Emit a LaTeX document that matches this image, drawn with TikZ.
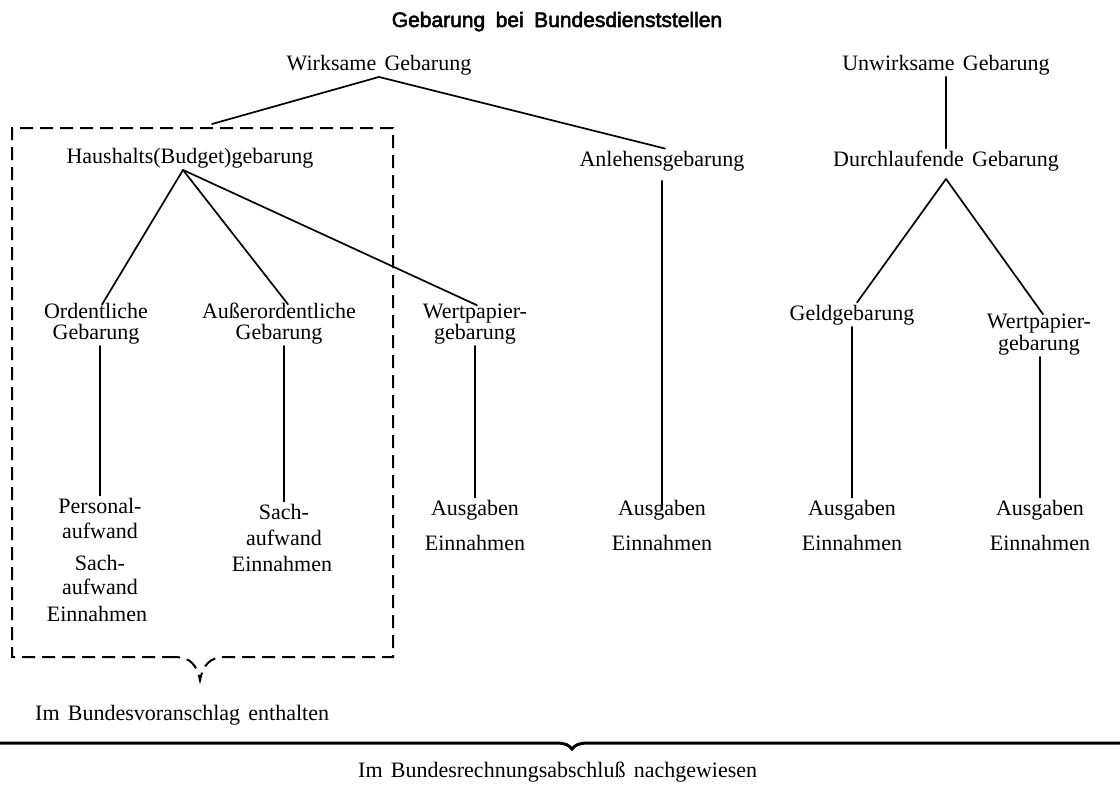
\documentclass[tikz,border=0pt]{standalone}
\usepackage{fontspec}
\setmainfont{Liberation Serif}[WordSpace=1.5]
\newfontfamily\titlefont{Liberation Sans}[WordSpace=1.8,FakeBold=2.5]
\begin{document}
\begin{tikzpicture}[x=1pt,y=-1pt,
  lbl/.style={font=\fontsize{22}{24}\selectfont, inner sep=2pt, anchor=base},
  lbll/.style={lbl, anchor=base west},
  ttl/.style={font=\titlefont\fontsize{21}{24}\selectfont, inner sep=2pt, anchor=base},
  conn/.style={line width=1.7pt, line cap=round},
  dashbox/.style={line width=2pt, dash pattern=on 13pt off 7pt},
  bigbrace/.style={line width=3pt}]
\useasboundingbox (0,0) rectangle (1120,785);
\fill[white] (0,0) rectangle (1120,785);

% title
\node[ttl] (title) at (557,27) {Gebarung bei Bundesdienststellen};

% top level
\node[lbl] (wirk) at (379,70) {Wirksame Gebarung};
\node[lbl] (unw) at (946,70) {Unwirksame Gebarung};

% second level
\node[lbl] (hh) at (190,163) {Haushalts(Budget)gebarung};
\node[lbl] (anl) at (662,166) {Anlehensgebarung};
\node[lbl] (durch) at (946,166) {Durchlaufende Gebarung};

% third level
\node[lbl] (ord1) at (96,318) {Ordentliche};
\node[lbl] (ord2) at (96,339) {Gebarung};
\node[lbl] (aus1) at (279,318) {Außerordentliche};
\node[lbl] (aus2) at (279,339) {Gebarung};
\node[lbl] (wp1) at (475,318) {Wertpapier-};
\node[lbl] (wp2) at (475,339) {gebarung};
\node[lbl] (geld) at (852,320) {Geldgebarung};
\node[lbl] (wr1) at (1039,328) {Wertpapier-};
\node[lbl] (wr2) at (1039,350) {gebarung};

% leaves
\node[lbl] (c1a) at (100,513) {Personal-};
\node[lbl] (c1b) at (100,538) {aufwand};
\node[lbl] (c1c) at (100,570) {Sach-};
\node[lbl] (c1d) at (100,594) {aufwand};
\node[lbl] (c1e) at (97,621) {Einnahmen};

\node[lbl] (c2a) at (284,519) {Sach-};
\node[lbl] (c2b) at (284,545) {aufwand};
\node[lbl] (c2c) at (282,571) {Einnahmen};

\node[lbl] (c3a) at (475,515) {Ausgaben};
\node[lbl] (c3b) at (475,550) {Einnahmen};
\node[lbl] (c4a) at (662,515) {Ausgaben};
\node[lbl] (c4b) at (662,550) {Einnahmen};
\node[lbl] (c5a) at (852,515) {Ausgaben};
\node[lbl] (c5b) at (852,550) {Einnahmen};
\node[lbl] (c6a) at (1040,515) {Ausgaben};
\node[lbl] (c6b) at (1040,550) {Einnahmen};

% bottom texts
\node[lbll] (voran) at (33,720) {Im Bundesvoranschlag enthalten};
\node[lbll] (rechn) at (356,777) {Im Bundesrechnungsabschluß nachgewiesen};

% dashed box with brace
\coordinate (boxtop) at (212,124);
\coordinate (btip) at (200,680);
\draw[dashbox] (175,657) -- (12,657) -- (12,128) -- (393,128) -- (393,657) -- (225,657)
  .. controls (210,657) and (203,665) .. (btip)
  .. controls (197,665) and (190,657) .. (175,657);
\fill (btip) circle (1.6pt);

% long brace
\coordinate (ltip) at (572,749);
\draw[bigbrace] (0,743) -- (556,743) .. controls (565,743) and (569,745) .. (ltip)
  .. controls (575,745) and (579,743) .. (588,743) -- (1120,743);

% connectors
\draw[conn] (wirk.south) -- (boxtop);
\draw[conn] (wirk.south) -- ([xshift=3pt]anl.north);
\draw[conn] (unw.south) -- (durch.north);

\draw[conn] ([xshift=-7pt]hh.south) -- ([xshift=6pt,yshift=-4pt]ord1.north);
\draw[conn] ([xshift=-7pt]hh.south) -- ([xshift=9pt,yshift=-4pt]aus1.north);
\draw[conn] ([xshift=-7pt]hh.south) -- ([xshift=2pt,yshift=-4pt]wp1.north);

\draw[conn] ([yshift=-6pt]durch.south) -- ([xshift=5pt]geld.north);
\draw[conn] ([yshift=-6pt]durch.south) -- ([xshift=4pt,yshift=-3pt]wr1.north);

\draw[conn] (c1a.north |- ord2.south) -- (c1a.north);
\draw[conn] (c2a.north |- aus2.south) -- (c2a.north);
\draw[conn] (c3a.north |- wp2.south) -- (c3a.north);
\draw[conn] ([yshift=-8pt]anl.south -| c4a.north) -- ([yshift=-12pt]c4a.north);
\draw[conn] (c5a.north |- geld.south) -- (c5a.north);
\draw[conn] (c6a.north |- wr2.south) -- (c6a.north);
\end{tikzpicture}
\end{document}
